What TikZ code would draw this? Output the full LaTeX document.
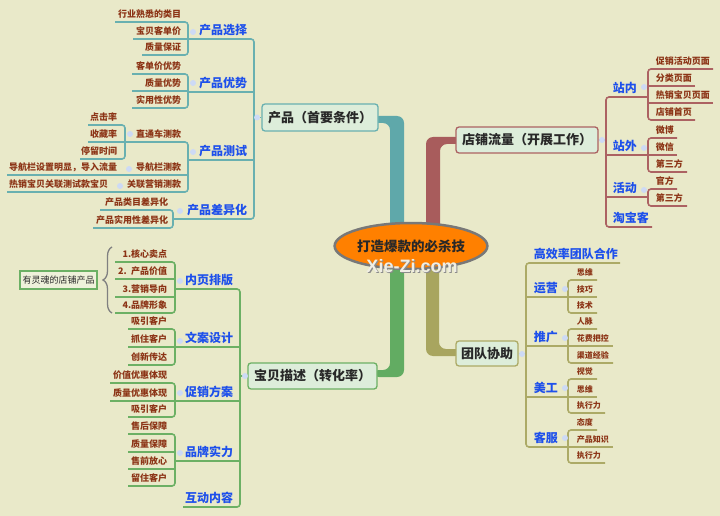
\documentclass[tikz,border=0pt]{standalone}
\usepackage{fontspec}
\setmainfont{Noto Sans CJK SC}
\newfontfamily\wmfont{Liberation Sans}
\usetikzlibrary{decorations.pathreplacing,shapes.geometric}
\definecolor{bgc}{RGB}{233,233,201}
\definecolor{brn}{RGB}{140,52,22}
\definecolor{blu}{RGB}{30,80,235}
\definecolor{txtdark}{RGB}{40,40,40}
\definecolor{boxfill}{RGB}{221,237,218}
\definecolor{boxlt}{RGB}{238,241,218}
\definecolor{tealln}{RGB}{105,176,176}
\definecolor{redln}{RGB}{172,98,98}
\definecolor{grnln}{RGB}{108,176,100}
\definecolor{olvln}{RGB}{172,170,102}
\definecolor{barT}{RGB}{95,168,170}
\definecolor{barR}{RGB}{168,92,92}
\definecolor{barG}{RGB}{98,172,98}
\definecolor{barO}{RGB}{168,165,95}
\definecolor{orng}{RGB}{255,128,0}
\definecolor{ellgray}{RGB}{120,120,120}
\definecolor{mkc}{RGB}{205,218,245}
\newcommand\LN[6]{\node[#1,anchor=south west,text width=#4pt,align=right] (#2) at (#3,#5) {#6};}
\newcommand\RN[6]{\node[#1,anchor=south east,text width=#4pt,align=left] (#2) at (#3,#5) {#6};}
\newcommand\LG[4]{\draw[#1,rounded corners=3pt] (#3.south west) -- (#3.south west -| #2) -- (#4.south west -| #2) -- (#4.south west);}
\newcommand\LM[3]{\draw[#1] (#3.south west) -- (#3.south west -| #2);}
\newcommand\RG[4]{\draw[#1,rounded corners=3pt] (#3.south east) -- (#3.south east -| #2) -- (#4.south east -| #2) -- (#4.south east);}
\newcommand\RM[3]{\draw[#1] (#3.south east) -- (#3.south east -| #2);}
\begin{document}
\begin{tikzpicture}[x=1pt,y=-1pt,
 lb/.style={font=\fontsize{9}{10}\selectfont\bfseries, text=brn, inner xsep=0pt, inner ysep=3pt, text height=7pt, text depth=1.5pt},
 lbs/.style={lb, font=\fontsize{8}{9}\selectfont\bfseries, inner ysep=3.5pt, text height=6.3pt, text depth=1.3pt},
 bl/.style={font=\fontsize{12}{13}\selectfont\bfseries, text=blu, inner xsep=0pt, inner ysep=2.4pt, text height=9.5pt, text depth=1.5pt},
 mainbox/.style={fill=boxfill, rounded corners=3pt, line width=1.3pt, inner sep=0pt, font=\fontsize{13}{14}\selectfont\bfseries, text=txtdark},
 lnT/.style={draw=tealln, line width=1.6pt},
 lnR/.style={draw=redln, line width=1.6pt},
 lnG/.style={draw=grnln, line width=1.6pt},
 lnO/.style={draw=olvln, line width=1.6pt},
 mk/.style={fill=mkc},
]
\fill[bgc] (0,0) rectangle (720,516);
\useasboundingbox (0,0) rectangle (720,516);

% main bars
\fill[barT, rounded corners=7pt] (372,116) -- (404,116) -- (404,240) -- (390,240) -- (390,123) -- (372,123) -- cycle;
\fill[barR, rounded corners=7pt] (462,137) -- (426,137) -- (426,240) -- (440,240) -- (440,144) -- (462,144) -- cycle;
\fill[barG, rounded corners=7pt] (372,377) -- (404,377) -- (404,250) -- (390,250) -- (390,370) -- (372,370) -- cycle;
\fill[barO, rounded corners=7pt] (462,356) -- (426,356) -- (426,250) -- (439,250) -- (439,349) -- (462,349) -- cycle;

% centre
\node[ellipse, draw=ellgray, line width=2.5pt, fill=orng, minimum width=142pt, minimum height=46pt, inner sep=0pt,
  font=\fontsize{13.5}{14}\selectfont\bfseries, text=txtdark] (ctr) at (411,246) {打造爆款的必杀技};

% main nodes
\node[mainbox, draw=tealln, minimum width=116pt, minimum height=27pt] (prod) at (320,117.5) {产品（首要条件）};
\node[mainbox, draw=redln, minimum width=142pt, minimum height=26pt] (shop) at (527,140) {店铺流量（开展工作）};
\node[mainbox, draw=grnln, minimum width=129pt, minimum height=26pt] (desc) at (312.5,376) {宝贝描述（转化率）};
\node[mainbox, draw=olvln, minimum width=62pt, minimum height=25pt] (team) at (487,353.5) {团队协助};

\coordinate (J0) at (254,117.5);
\coordinate (J1) at (606,140);
\coordinate (J2) at (240,376);
\coordinate (J3) at (526,353.5);

% ---------- product branch ----------
\LN{bl}{pA}{188}{59}{39}{产品选择}
\LN{bl}{pB}{188}{59}{92}{产品优势}
\LN{bl}{pC}{188}{59}{160}{产品测试}
\LN{bl}{pD}{173}{74}{219}{产品差异化}
\LN{lb}{a1}{115}{66}{22}{行业熟悉的类目}
\LN{lb}{a2}{133}{48}{39}{宝贝客单价}
\LN{lb}{a3}{142}{39}{55}{质量保证}
\LN{lb}{b1}{132}{49}{74}{客单价优势}
\LN{lb}{b2}{132}{49}{91}{质量优势}
\LN{lb}{b3}{132}{49}{108}{实用性优势}
\LN{lb}{c1}{125}{56}{142}{直通车测款}
\LN{lb}{c2}{125}{56}{175}{导航栏测款}
\LN{lb}{c3}{125}{56}{192}{关联营销测款}
\LN{lb}{c11}{88}{29}{125}{点击率}
\LN{lb}{c12}{88}{29}{142}{收藏率}
\LN{lb}{c13}{80}{37}{159}{停留时间}
\LN{lb}{c21}{7}{110}{175}{导航栏设置明显，导入流量}
\LN{lb}{c31}{7}{101}{192}{热销宝贝关联测试款宝贝}
\LN{lb}{d1}{100}{68}{210}{产品类目差异化}
\LN{lb}{d2}{93}{75}{228}{产品实用性差异化}

\draw[lnT] (prod.west) -- (J0);
\LG{lnT}{J0}{pA}{pD} \LM{lnT}{J0}{pB} \LM{lnT}{J0}{pC}
\LG{lnT}{pA.south west}{a1}{a3} \LM{lnT}{pA.south west}{a2}
\LG{lnT}{pB.south west}{b1}{b3} \LM{lnT}{pB.south west}{b2}
\LG{lnT}{pC.south west}{c1}{c3} \LM{lnT}{pC.south west}{c2}
\LG{lnT}{c1.south west}{c11}{c13} \LM{lnT}{c1.south west}{c12}
\LM{lnT}{c2.south west}{c21} \LM{lnT}{c3.south west}{c31}
\LG{lnT}{pD.south west}{d1}{d2}

% ---------- shop branch ----------
\RN{bl}{r1}{648}{35}{97}{站内}
\RN{bl}{r2}{648}{35}{155}{站外}
\RN{bl}{r3}{648}{35}{197}{活动}
\RN{bl}{r4}{652}{39}{227}{淘宝客}
\RN{lb}{r11}{713}{57}{69}{促销活动页面}
\RN{lb}{r12}{695}{39}{86}{分类页面}
\RN{lb}{r13}{713}{57}{103}{热销宝贝页面}
\RN{lb}{r14}{695}{39}{120}{店铺首页}
\RN{lb}{r21}{677}{21}{138}{微博}
\RN{lb}{r22}{677}{21}{155}{微信}
\RN{lb}{r23}{687}{31}{172}{第三方}
\RN{lb}{r31}{677}{21}{189}{官方}
\RN{lb}{r32}{687}{31}{206}{第三方}

\draw[lnR] (shop.east) -- (J1);
\RG{lnR}{J1}{r1}{r4} \RM{lnR}{J1}{r2} \RM{lnR}{J1}{r3}
\RG{lnR}{r1.south east}{r11}{r14} \RM{lnR}{r1.south east}{r12} \RM{lnR}{r1.south east}{r13}
\RG{lnR}{r2.south east}{r21}{r23} \RM{lnR}{r2.south east}{r22}
\RG{lnR}{r3.south east}{r31}{r32}

% ---------- description branch ----------
\LN{bl}{g1}{175}{58}{289}{内页排版}
\LN{bl}{g2}{175}{58}{347}{文案设计}
\LN{bl}{g3}{175}{58}{401}{促销方案}
\LN{bl}{g4}{175}{58}{461}{品牌实力}
\LN{bl}{g5}{183}{50}{507}{互动内容}
\LN{lb}{g11}{115}{52}{262}{\mbox{1.核心卖点}}
\LN{lb}{g12}{115}{52}{279}{\mbox{2. 产品价值}}
\LN{lb}{g13}{115}{52}{297}{\mbox{3.营销导向}}
\LN{lb}{g14}{115}{52}{313}{\mbox{4.品牌形象}}
\LN{lb}{g21}{128}{39}{329}{吸引客户}
\LN{lb}{g22}{128}{39}{347}{抓住客户}
\LN{lb}{g23}{128}{39}{365}{创新传达}
\LN{lb}{g31}{110}{57}{383}{价值优惠体现}
\LN{lb}{g32}{110}{57}{401}{质量优惠体现}
\LN{lb}{g33}{128}{39}{417}{吸引客户}
\LN{lb}{g41}{128}{39}{434}{售后保障}
\LN{lb}{g42}{128}{39}{452}{质量保障}
\LN{lb}{g43}{128}{39}{469}{售前放心}
\LN{lb}{g44}{128}{39}{486}{留住客户}

\draw[lnG] (desc.west) -- (J2);
\LG{lnG}{J2}{g1}{g5} \LM{lnG}{J2}{g2} \LM{lnG}{J2}{g3} \LM{lnG}{J2}{g4}
\LG{lnG}{g1.south west}{g11}{g14} \LM{lnG}{g1.south west}{g12} \LM{lnG}{g1.south west}{g13}
\LG{lnG}{g2.south west}{g21}{g23} \LM{lnG}{g2.south west}{g22}
\LG{lnG}{g3.south west}{g31}{g33} \LM{lnG}{g3.south west}{g32}
\LG{lnG}{g4.south west}{g41}{g44} \LM{lnG}{g4.south west}{g42} \LM{lnG}{g4.south west}{g43}

\node[draw=grnln, fill=boxlt, line width=1.2pt, minimum width=77pt, minimum height=18pt, inner sep=0pt,
  font=\fontsize{9}{10}\selectfont, text=txtdark] (soul) at (58.5,280) {有灵魂的店铺产品};
\coordinate (brB) at (112,313);
\coordinate (brT) at (112,247);
\draw[draw=gray, line width=1.3pt, decorate, decoration={brace, amplitude=9pt}] (brB) -- (brT);

% ---------- team branch ----------
\RN{bl}{t1}{620}{86}{263}{高效率团队合作}
\RN{bl}{t2}{568}{34}{297}{运营}
\RN{bl}{t3}{568}{34}{346}{推广}
\RN{bl}{t4}{568}{34}{397}{美工}
\RN{bl}{t5}{568}{34}{447}{客服}
\RN{lbs}{t21}{597}{20}{280}{思维}
\RN{lbs}{t22}{597}{20}{297}{技巧}
\RN{lbs}{t23}{597}{20}{313}{技术}
\RN{lbs}{t31}{597}{20}{329}{人脉}
\RN{lbs}{t32}{613}{36}{346}{花费把控}
\RN{lbs}{t33}{613}{36}{363}{渠道经验}
\RN{lbs}{t41}{597}{20}{379}{视觉}
\RN{lbs}{t42}{597}{20}{397}{思维}
\RN{lbs}{t43}{605}{28}{413}{执行力}
\RN{lbs}{t51}{597}{20}{430}{态度}
\RN{lbs}{t52}{613}{36}{447}{产品知识}
\RN{lbs}{t53}{605}{28}{463}{执行力}

\draw[lnO] (team.east) -- (J3);
\RG{lnO}{J3}{t1}{t5} \RM{lnO}{J3}{t2} \RM{lnO}{J3}{t3} \RM{lnO}{J3}{t4}
\RG{lnO}{t2.south east}{t21}{t23} \RM{lnO}{t2.south east}{t22}
\RG{lnO}{t3.south east}{t31}{t33} \RM{lnO}{t3.south east}{t32}
\RG{lnO}{t4.south east}{t41}{t43} \RM{lnO}{t4.south east}{t42}
\RG{lnO}{t5.south east}{t51}{t53} \RM{lnO}{t5.south east}{t52}

% collapse markers
\foreach \p in {(257,117.5),(193,32),(193,83),(193,152),(180,211),(130,134),(129,169),(120,186),
  (602,140),(644,87),(644,148),(644,190),
  (245,376),(180,281),(180,341),(180,393),(180,453),
  (522,354),(565,289),(565,338),(565,388),(565,438)}
  \fill[mk] \p circle (3pt);

% watermark
\node[font=\wmfont\bfseries\fontsize{18}{18}\selectfont, text=black!45] at (413.2,267.2) {Xie-Zi.com};
\node[font=\wmfont\bfseries\fontsize{18}{18}\selectfont, text={rgb,255:red,240;green,238;blue,228}] (wm) at (412,266) {Xie-Zi.com};
\end{tikzpicture}
\end{document}
